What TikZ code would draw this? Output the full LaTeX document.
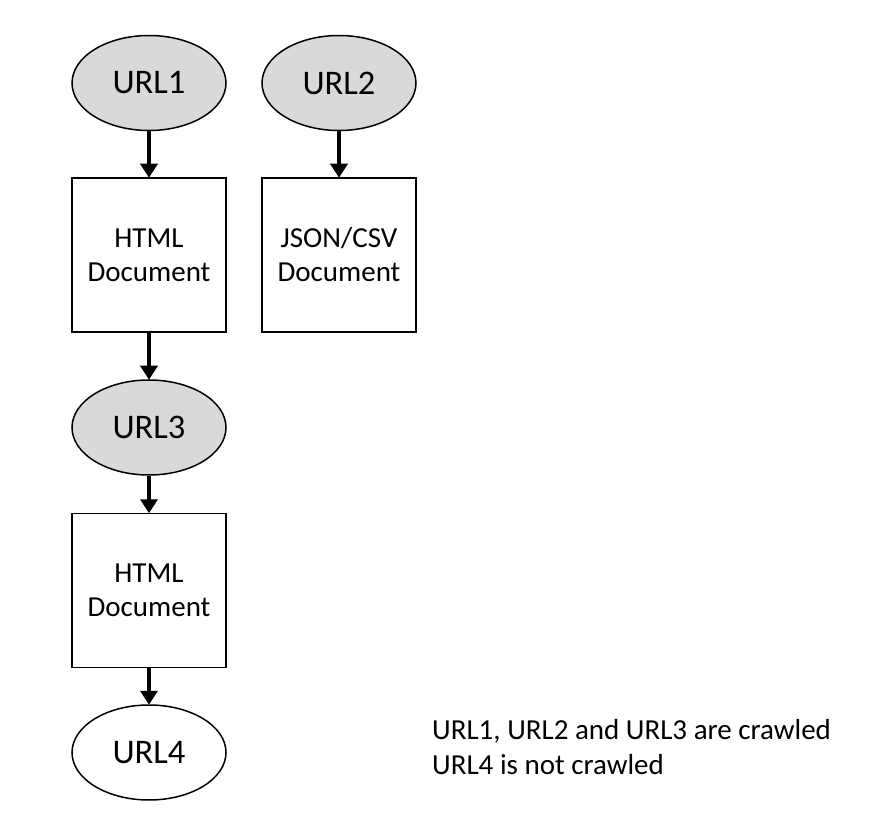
\documentclass[tikz,border=0pt]{standalone}
\usepackage{fontspec}
\setmainfont{Carlito}
\usetikzlibrary{shapes.geometric,arrows.meta}
\definecolor{urlgray}{HTML}{D9D9D9}
\tikzset{
  urlnode/.style={ellipse,draw=black,line width=1.5pt,minimum width=154pt,minimum height=95pt,inner sep=0pt,font=\fontsize{34.5}{40}\selectfont},
  crawled/.style={urlnode,fill=urlgray},
  docnode/.style={rectangle,draw=black,line width=1.5pt,minimum width=154pt,minimum height=154pt,inner sep=0pt,align=center,font=\fontsize{29}{34}\selectfont},
  flow/.style={line width=4pt,-{Triangle[width=17pt,length=14pt]},shorten >=-0.5pt},
  note/.style={anchor=west,inner sep=0pt,align=left,font=\fontsize{29}{35}\selectfont}
}
\begin{document}
\begin{tikzpicture}[x=1pt,y=-1pt]
\useasboundingbox (0,0) rectangle (871,818);
\node[crawled] (u1) at (149,83) {URL1};
\node[crawled] (u2) at (339,83) {URL2};
\node[docnode] (d1) at (149,255) {HTML\\Document};
\node[docnode] (d2) at (339,255) {JSON/CSV\\Document};
\node[crawled] (u3) at (149,427.5) {URL3};
\node[docnode] (d3) at (149,590.5) {HTML\\Document};
\node[urlnode,fill=white] (u4) at (149,752.5) {URL4};
\draw[flow] (u1) -- (d1);
\draw[flow] (u2) -- (d2);
\draw[flow] (d1) -- (u3);
\draw[flow] (u3) -- (d3);
\draw[flow] (d3) -- (u4);
\node[note] (txt) at (432,747) {URL1, URL2 and URL3 are crawled\\URL4 is not crawled};
\end{tikzpicture}
\end{document}
